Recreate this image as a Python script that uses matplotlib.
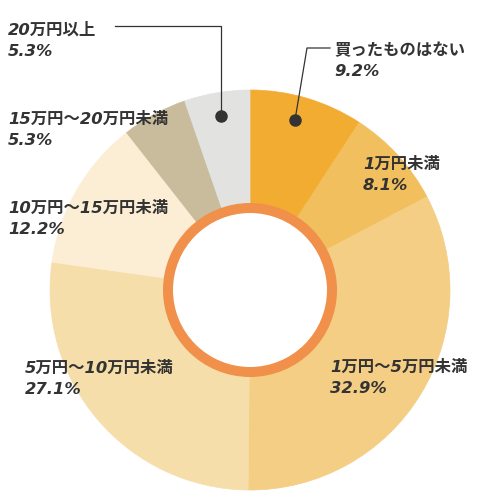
import matplotlib
matplotlib.use('Agg')
import matplotlib.pyplot as plt
from matplotlib.patches import Circle

plt.rcParams['font.family'] = ['DejaVu Sans', 'Noto Sans CJK JP']

# data, clockwise from 12 o'clock
labels = ['買ったものはない', '1万円未満', '1万円～5万円未満', '5万円～10万円未満',
          '10万円～15万円未満', '15万円～20万円未満', '20万円以上']
shares = [9.2, 8.1, 32.9, 27.1, 12.2, 5.3, 5.3]
colors = ['#F2AC31', '#F1BF5D', '#F3CE84', '#F6DEAA', '#FBEED5', '#C9BC9C', '#E2E2E1']

H = 500
TXT = '#333333'


def y(py):
    # picture rows run downward
    return H - py


fig = plt.figure(figsize=(5, 5), dpi=100)
ax = fig.add_axes([0, 0, 1, 1])

wedges, _ = ax.pie(shares, colors=colors, startangle=90, counterclock=False,
                   radius=200, center=(250, y(290)),
                   wedgeprops=dict(width=125, linewidth=0.5))
for w in wedges:
    # hide the antialiasing seams between slices
    w.set_edgecolor(w.get_facecolor())
ax.set_xlim(0, 500)
ax.set_ylim(0, 500)
ax.set_aspect('equal')
ax.axis('off')

ax.add_patch(Circle((250, y(290)), 82, facecolor='white',
                    edgecolor='#F0904A', linewidth=7.2, zorder=5))

# label anchors: left edge, baseline of first line
pos = [(334, 55), (363, 169), (330, 372), (25, 373), (8, 213), (8, 124), (8, 35)]
for lab, v, (px, base) in zip(labels, shares, pos):
    ax.text(px, y(base), lab, fontsize=11.8, fontweight='bold', fontstyle='italic',
            color=TXT, ha='left', va='baseline', zorder=7)
    ax.text(px, y(base + 21), f'{v}%', fontsize=11.8, fontweight='bold',
            fontstyle='italic', color=TXT, ha='left', va='baseline', zorder=7)

# leader lines for the two small top slices
ax.plot([330, 307, 295], [y(48), y(48), y(120)], color=TXT, lw=0.9, zorder=6)
ax.plot([295], [y(120)], 'o', color=TXT, ms=8, zorder=6)
ax.plot([115, 221, 221], [y(26), y(26), y(116)], color=TXT, lw=0.9, zorder=6)
ax.plot([221], [y(116)], 'o', color=TXT, ms=8, zorder=6)

fig.savefig('out.png', dpi=100)
